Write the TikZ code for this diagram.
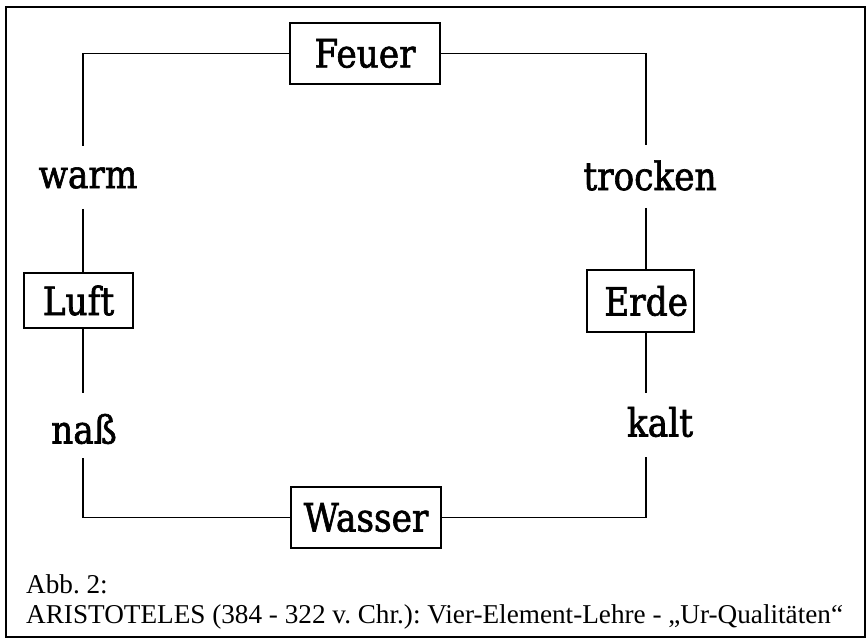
\documentclass[tikz,border=0pt]{standalone}
\usepackage{fontspec}
\setmainfont{Liberation Serif}
\newfontfamily\lblfont[FakeStretch=0.88,FakeBold=1.6]{DejaVu Serif}
\begin{document}
\frenchspacing
\begin{tikzpicture}[x=1pt,y=-1pt,
  elbox/.style={draw, line width=1.3pt, rectangle, inner sep=0pt,
    font=\lblfont\fontsize{39}{44}\selectfont},
  qual/.style={inner sep=0pt, font=\lblfont\fontsize{39}{44}\selectfont},
  conn/.style={line width=1.1pt},
  captext/.style={inner sep=0pt, anchor=base west, font=\fontsize{27.2}{30}\selectfont}
]
\useasboundingbox (0,0) rectangle (868,639);
\draw[line width=2.2pt] (6,7) rectangle (865,637);

% element boxes
\node[elbox, minimum width=150pt, minimum height=61pt] (feuer) at (365,53.5) {Feuer};
\node[elbox, minimum width=109pt, minimum height=55pt] (luft) at (78.5,300.5) {Luft};
\node[elbox, minimum width=107pt, minimum height=62pt, text width=95pt, align=right, inner xsep=6pt] (erde) at (640.5,301) {Erde};
\node[elbox, minimum width=150pt, minimum height=61pt] (wasser) at (366,517.5) {Wasser};

% qualities
\node[qual] (warm) at (88,178) {warm};
\node[qual] (trocken) at (650,175.5) {trocken};
\node[qual] (nass) at (84,429) {naß};
\node[qual] (kalt) at (660,422) {kalt};

% connector ends
\coordinate (w1) at (83,146);
\coordinate (w2) at (83,209);
\coordinate (n1) at (83,393);
\coordinate (n2) at (83,458);
\coordinate (t1) at (646,145);
\coordinate (t2) at (646,208);
\coordinate (k1) at (646,393);
\coordinate (k2) at (646,457);

\draw[conn] (feuer.west) -| (w1);
\draw[conn] (w2) -- (w2 |- luft.north);
\draw[conn] (n1 |- luft.south) -- (n1);
\draw[conn] (n2) |- (wasser.west);
\draw[conn] (feuer.east) -| (t1);
\draw[conn] (t2) -- (t2 |- erde.north);
\draw[conn] (k1 |- erde.south) -- (k1);
\draw[conn] (k2) |- (wasser.east);

% caption
\node[captext] (cap1) at (26,593) {Abb. 2:};
\node[captext] (cap2) at (26,623) {ARISTOTELES (384 - 322 v. Chr.): Vier-Element-Lehre - „Ur-Qualitäten“};
\end{tikzpicture}
\end{document}
